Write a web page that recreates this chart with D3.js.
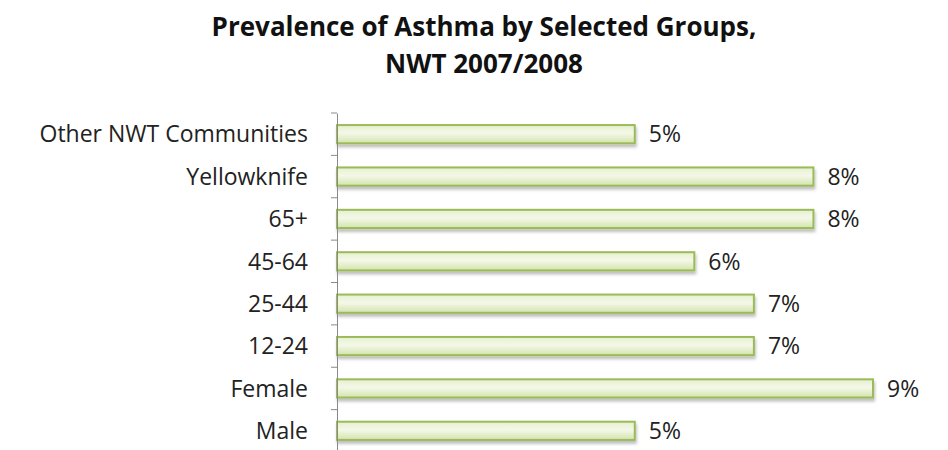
<!DOCTYPE html>
<html>
<head>
<meta charset="utf-8">
<script src="https://cdn.jsdelivr.net/npm/d3@7"></script>
<style>
  body { margin: 0; background: #fff; }
  svg { font-family: "Open Sans", sans-serif; }
</style>
</head>
<body>
<div id="chart"></div>
<script>
const categories = ["Other NWT Communities", "Yellowknife", "65+", "45-64", "25-44", "12-24", "Female", "Male"];
const values = [5, 8, 8, 6, 7, 7, 9, 5];
const valueLabels = ["5%", "8%", "8%", "6%", "7%", "7%", "9%", "5%"];
const titleLines = ["Prevalence of Asthma by Selected Groups,", "NWT 2007/2008"];

const width = 948, height = 450;
const svg = d3.select("#chart").append("svg")
  .attr("width", width).attr("height", height);

const defs = svg.append("defs");
const grad = defs.append("linearGradient").attr("id", "barFill")
  .attr("x1", 0).attr("y1", 0).attr("x2", 0).attr("y2", 1);
grad.append("stop").attr("offset", "0%").attr("stop-color", "#e6f0cf");
grad.append("stop").attr("offset", "45%").attr("stop-color", "#f4f8e8");
grad.append("stop").attr("offset", "100%").attr("stop-color", "#d3e3ad");

const shadow = defs.append("filter").attr("id", "shadow")
  .attr("x", "-5%").attr("y", "-50%").attr("width", "110%").attr("height", "200%");
shadow.append("feDropShadow").attr("dx", 1).attr("dy", 3).attr("stdDeviation", 1.5)
  .attr("flood-color", "#000").attr("flood-opacity", 0.25);

const x = d3.scaleLinear().domain([0, 9]).range([337, 873]);
const y = d3.scaleBand().domain(categories).range([113, 452]).paddingInner(0.57).paddingOuter(0.285);

// title
svg.append("g").selectAll("text")
  .data(titleLines)
  .join("text")
  .attr("x", 484)
  .attr("y", (d, i) => 36 + i * 37)
  .attr("text-anchor", "middle")
  .style("font-size", "26px")
  .style("font-weight", "bold")
  .style("fill", "#111")
  .text(d => d);

// bars
svg.append("g").selectAll("rect")
  .data(values)
  .join("rect")
  .attr("x", x(0))
  .attr("y", (d, i) => y(categories[i]))
  .attr("width", d => x(d) - x(0))
  .attr("height", y.bandwidth())
  .attr("fill", "url(#barFill)")
  .attr("stroke", "#9bbb59")
  .attr("stroke-width", 2)
  .attr("filter", "url(#shadow)");

// value labels
svg.append("g").selectAll("text")
  .data(values)
  .join("text")
  .attr("x", d => x(d) + 14)
  .attr("y", (d, i) => y(categories[i]) + y.bandwidth() / 2)
  .attr("dy", "0.36em")
  .style("font-size", "23px")
  .style("fill", "#222")
  .text((d, i) => valueLabels[i]);

// category axis
const axis = svg.append("g")
  .attr("transform", `translate(${x(0)},0)`)
  .call(d3.axisLeft(y).tickSize(0).tickPadding(29));
axis.select(".domain").attr("stroke", "#8a8a8a");
axis.selectAll(".tick text").style("font-size", "23px").style("fill", "#222")
  .attr("dy", "0.36em")
  .style("font-family", "'Open Sans', sans-serif");

// tick marks between categories
const step = y.step();
svg.append("g").selectAll("line")
  .data(d3.range(categories.length + 1))
  .join("line")
  .attr("x1", x(0) - 6).attr("x2", x(0))
  .attr("y1", i => 113 + i * step).attr("y2", i => 113 + i * step)
  .attr("stroke", "#8a8a8a");
</script>
</body>
</html>
